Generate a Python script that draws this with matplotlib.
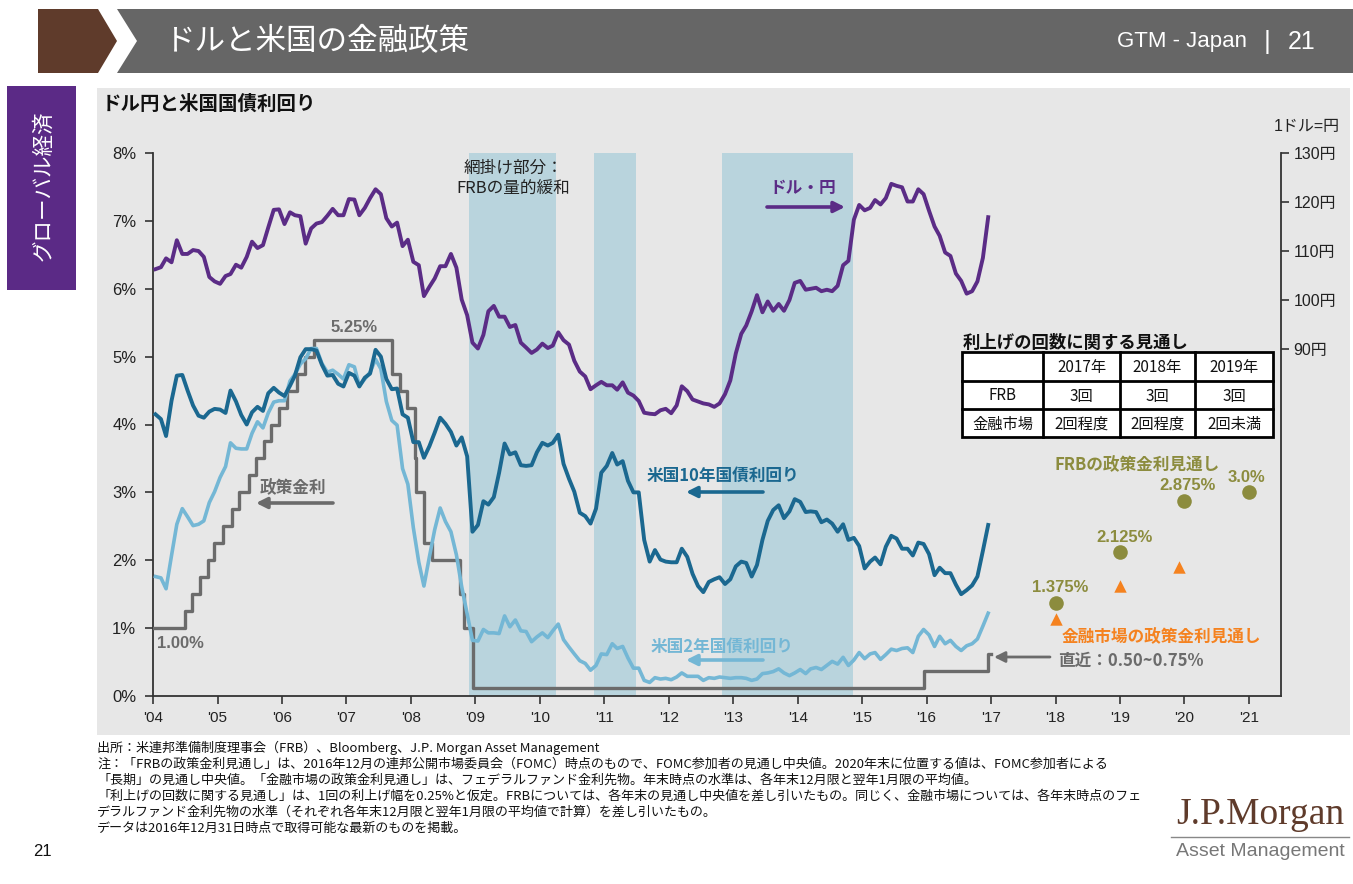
import matplotlib
matplotlib.use("Agg")
import matplotlib.pyplot as plt
from matplotlib.patches import Polygon, Rectangle
import pandas as pd

plt.rcParams['font.family'] = ['Liberation Sans', 'Noto Sans CJK JP']

# ---------------- data (monthly, Jan 2004 - Dec 2016) ----------------
first_month = "2004-01-01"

usdjpy = [
    106.3, 106.7, 108.5, 107.7, 112.2, 109.4, 109.4, 110.2, 110.0, 108.8, 104.7, 103.8,
    103.3, 104.9, 105.3, 107.2, 106.6, 108.8, 111.9, 110.6, 111.2, 114.8, 118.4, 118.5,
    115.5, 117.9, 117.3, 117.1, 111.5, 114.6, 115.6, 115.9, 117.2, 118.6, 117.3, 117.3,
    120.6, 120.5, 117.3, 118.8, 120.8, 122.6, 121.6, 116.7, 115.0, 115.8, 111.0, 112.3,
    107.8, 107.1, 100.8, 102.7, 104.4, 106.9, 106.9, 109.4, 106.6, 100.1, 96.9, 91.3,
    90.1, 92.9, 97.7, 98.8, 96.6, 96.6, 94.5, 94.9, 91.3, 90.3, 89.2, 89.9,
    91.1, 90.2, 90.7, 93.4, 91.8, 90.9, 87.6, 85.4, 84.4, 81.8, 82.6, 83.3,
    82.6, 82.6, 81.7, 83.2, 81.1, 80.5, 79.4, 77.0, 76.8, 76.7, 77.5, 77.8,
    76.9, 78.5, 82.4, 81.4, 79.7, 79.3, 78.9, 78.7, 78.2, 78.9, 80.8, 83.6,
    89.1, 93.1, 94.8, 97.7, 101.0, 97.5, 99.7, 97.8, 99.2, 97.8, 100.0, 103.5,
    103.9, 102.1, 102.3, 102.5, 101.8, 102.1, 101.8, 102.9, 107.1, 108.0, 116.4, 119.4,
    118.3, 118.8, 120.4, 119.5, 120.8, 123.7, 123.3, 123.0, 120.1, 120.1, 122.6, 121.6,
    118.2, 115.0, 113.1, 109.7, 109.0, 105.4, 103.9, 101.3, 101.8, 103.8, 108.6, 116.9,
]

ust10 = [
    4.15, 4.08, 3.83, 4.35, 4.72, 4.73, 4.50, 4.28, 4.13, 4.10, 4.19, 4.23,
    4.22, 4.17, 4.50, 4.34, 4.14, 4.00, 4.18, 4.26, 4.20, 4.46, 4.54, 4.47,
    4.42, 4.57, 4.72, 4.99, 5.11, 5.11, 5.09, 4.88, 4.72, 4.73, 4.60, 4.56,
    4.76, 4.72, 4.56, 4.69, 4.75, 5.10, 5.00, 4.67, 4.52, 4.53, 4.15, 4.10,
    3.74, 3.74, 3.51, 3.68, 3.88, 4.10, 4.01, 3.89, 3.69, 3.81, 3.53, 2.42,
    2.52, 2.87, 2.82, 2.93, 3.29, 3.72, 3.56, 3.59, 3.40, 3.39, 3.40, 3.59,
    3.73, 3.69, 3.73, 3.85, 3.42, 3.20, 3.01, 2.70, 2.65, 2.54, 2.76, 3.29,
    3.39, 3.58, 3.41, 3.46, 3.17, 3.00, 3.00, 2.30, 1.98, 2.15, 2.01, 1.98,
    1.97, 1.97, 2.17, 2.05, 1.80, 1.62, 1.53, 1.68, 1.72, 1.75, 1.65, 1.72,
    1.91, 1.98, 1.96, 1.76, 1.93, 2.30, 2.58, 2.74, 2.81, 2.62, 2.72, 2.90,
    2.86, 2.71, 2.72, 2.71, 2.56, 2.60, 2.54, 2.42, 2.53, 2.30, 2.33, 2.21,
    1.88, 1.98, 2.04, 1.94, 2.20, 2.36, 2.32, 2.17, 2.17, 2.07, 2.26, 2.24,
    2.09, 1.78, 1.89, 1.81, 1.81, 1.64, 1.50, 1.56, 1.63, 1.76, 2.14, 2.52,
]

ust2 = [
    1.76, 1.74, 1.58, 2.07, 2.53, 2.76, 2.64, 2.51, 2.53, 2.58, 2.85, 3.01,
    3.22, 3.38, 3.73, 3.65, 3.64, 3.64, 3.87, 4.04, 3.95, 4.17, 4.33, 4.35,
    4.35, 4.64, 4.74, 4.89, 4.97, 5.12, 5.12, 4.90, 4.77, 4.80, 4.74, 4.67,
    4.88, 4.85, 4.57, 4.67, 4.77, 4.96, 4.82, 4.34, 4.06, 3.99, 3.35, 3.12,
    2.48, 1.97, 1.62, 2.05, 2.45, 2.77, 2.57, 2.42, 2.08, 1.61, 1.21, 0.82,
    0.81, 0.98, 0.93, 0.93, 0.92, 1.18, 1.02, 1.12, 0.96, 0.95, 0.80, 0.87,
    0.93, 0.86, 0.96, 1.06, 0.83, 0.72, 0.62, 0.52, 0.48, 0.38, 0.45, 0.62,
    0.61, 0.77, 0.70, 0.73, 0.56, 0.41, 0.41, 0.23, 0.20, 0.27, 0.25, 0.26,
    0.24, 0.28, 0.34, 0.29, 0.29, 0.29, 0.23, 0.27, 0.26, 0.28, 0.27, 0.26,
    0.27, 0.27, 0.26, 0.23, 0.25, 0.33, 0.34, 0.36, 0.40, 0.34, 0.30, 0.34,
    0.39, 0.33, 0.40, 0.42, 0.39, 0.45, 0.51, 0.47, 0.57, 0.45, 0.53, 0.64,
    0.55, 0.62, 0.64, 0.54, 0.61, 0.69, 0.67, 0.70, 0.71, 0.64, 0.88, 0.98,
    0.90, 0.73, 0.88, 0.77, 0.82, 0.73, 0.67, 0.74, 0.77, 0.84, 1.03, 1.22,
]

fed_dates = ["2004-01-01", "2004-06-30", "2004-08-10", "2004-09-21", "2004-11-10",
             "2004-12-14", "2005-02-02", "2005-03-22", "2005-05-03", "2005-06-30",
             "2005-08-09", "2005-09-20", "2005-11-01", "2005-12-13", "2006-01-31",
             "2006-03-28", "2006-05-10", "2006-06-29", "2007-09-18", "2007-10-31",
             "2007-12-11", "2008-01-22", "2008-01-30", "2008-03-18", "2008-04-30",
             "2008-10-08", "2008-10-29", "2008-12-16", "2015-12-16", "2016-12-14",
             "2016-12-31"]
fed_rates = [1.00, 1.25, 1.50, 1.75, 2.00, 2.25, 2.50, 2.75, 3.00, 3.25, 3.50, 3.75,
             4.00, 4.25, 4.50, 4.75, 5.00, 5.25, 4.75, 4.50, 4.25, 3.50, 3.00, 2.25,
             2.00, 1.50, 1.00, 0.125, 0.375, 0.625, 0.625]

qe_start = ["2008-11-25", "2010-11-03", "2012-10-30"]
qe_end = ["2010-03-31", "2011-06-30", "2014-11-10"]

proj_dates = ["2018-01-01", "2019-01-01", "2020-01-01", "2021-01-01"]
frb_proj = [1.375, 2.125, 2.875, 3.0]
frb_labels = ["1.375%", "2.125%", "2.875%", "3.0%"]
mkt_dates = ["2018-01-01", "2019-01-01", "2019-12-01"]
mkt_proj = [1.13, 1.62, 1.90]

year_ticks = list(range(2004, 2022))
year_labels = ["'04", "'05", "'06", "'07", "'08", "'09", "'10", "'11", "'12",
               "'13", "'14", "'15", "'16", "'17", "'18", "'19", "'20", "'21"]
pct_ticks = [0, 1, 2, 3, 4, 5, 6, 7, 8]
yen_ticks = [90, 100, 110, 120, 130]

table_header = ["", "2017年", "2018年", "2019年"]
table_rows = [["FRB", "3回", "3回", "3回"],
              ["金融市場", "2回程度", "2回程度", "2回未満"]]

footnotes = [
    "出所：米連邦準備制度理事会（FRB）、Bloomberg、J.P. Morgan Asset Management",
    "注：「FRBの政策金利見通し」は、2016年12月の連邦公開市場委員会（FOMC）時点のもので、FOMC参加者の見通し中央値。2020年末に位置する値は、FOMC参加者による",
    "「長期」の見通し中央値。「金融市場の政策金利見通し」は、フェデラルファンド金利先物。年末時点の水準は、各年末12月限と翌年1月限の平均値。",
    "「利上げの回数に関する見通し」は、1回の利上げ幅を0.25%と仮定。FRBについては、各年末の見通し中央値を差し引いたもの。同じく、金融市場については、各年末時点のフェ",
    "デラルファンド金利先物の水準（それぞれ各年末12月限と翌年1月限の平均値で計算）を差し引いたもの。",
    "データは2016年12月31日時点で取得可能な最新のものを掲載。",
]

# ---------------- colours ----------------
C_JPY = "#5b2c86"
C_10Y = "#1b6890"
C_2Y = "#74b7d5"
C_FED = "#6b6b6b"
C_FRB = "#8c8c3e"
C_MKT = "#f5821f"
C_QE = "#b9d4dd"
C_BG = "#e7e7e7"

W, H = 1353, 884
fig = plt.figure(figsize=(W / 100, H / 100), dpi=100)

# background layer (pixel coordinates)
bg = fig.add_axes([0, 0, 1, 1], zorder=0)
bg.set_xlim(0, W)
bg.set_ylim(H, 0)
bg.axis("off")
bg.add_patch(Polygon([(38, 9), (98, 9), (117, 41), (98, 73), (38, 73)],
                     closed=True, color="#5f3b2b", lw=0))
bg.add_patch(Polygon([(117, 9), (W, 9), (W, 73), (117, 73), (137, 41)],
                     closed=True, color="#666666", lw=0))
bg.add_patch(Rectangle((7, 86), 69, 204, color="#5b2a86", lw=0))
bg.add_patch(Rectangle((97, 88), 1253, 647, color=C_BG, lw=0))

# ---------------- main axes ----------------
ax = fig.add_axes([153 / W, 1 - 696 / H, (1281 - 153) / W, (696 - 153) / H], zorder=2)
ax.patch.set_visible(False)
ax2 = ax.twinx()
ax2.set_zorder(3)
ax2.patch.set_visible(False)

dates = pd.date_range(first_month, periods=len(usdjpy), freq="MS") + pd.Timedelta(days=14)

ax.step(pd.to_datetime(fed_dates), fed_rates, where="post", color=C_FED, lw=2.4, zorder=3)
ax.plot(dates, ust2, color=C_2Y, lw=2.6, zorder=4)
ax.plot(dates, ust10, color=C_10Y, lw=2.8, zorder=5)
ax2.plot(dates, usdjpy, color=C_JPY, lw=2.8)

for s, e in zip(qe_start, qe_end):
    ax.axvspan(pd.Timestamp(s), pd.Timestamp(e), color=C_QE, lw=0, zorder=0)

ax.scatter(pd.to_datetime(proj_dates), frb_proj, s=110, color=C_FRB, zorder=6, lw=0)
ax.scatter(pd.to_datetime(mkt_dates), mkt_proj, s=80, marker="^", color=C_MKT, zorder=6, lw=0)

ax.set_xlim(pd.Timestamp("2004-01-01"), pd.Timestamp("2021-07-01"))
ax.set_ylim(0, 8)
ax2.set_ylim(19.2, 130)

ax.set_xticks(pd.to_datetime([f"{y}-01-01" for y in year_ticks]))
ax.set_xticklabels(year_labels)
ax.set_yticks(pct_ticks)
ax.set_yticklabels([f"{v}%" for v in pct_ticks])
ax2.set_yticks(yen_ticks)
ax2.set_yticklabels([f"{v}円" for v in yen_ticks])

for a in (ax, ax2):
    a.spines["top"].set_visible(False)
ax.spines["right"].set_visible(False)
ax2.spines["left"].set_visible(False)
ax2.spines["bottom"].set_visible(False)
for a, sides in ((ax, ("left", "bottom")), (ax2, ("right",))):
    for sd in sides:
        a.spines[sd].set_color("#333333")
        a.spines[sd].set_linewidth(1.3)

ax.tick_params(axis="y", direction="out", length=6, width=1.2, color="#333333",
               labelsize=12, labelcolor="#222222", pad=6)
ax.tick_params(axis="x", direction="out", length=6, width=1.2, color="#333333",
               labelsize=11, labelcolor="#222222", pad=5)
ax2.tick_params(axis="y", direction="out", length=6, width=1.2, color="#333333",
                labelsize=11.5, labelcolor="#222222", pad=3)

# ---------------- overlay text layer ----------------
top = fig.add_axes([0, 0, 1, 1], zorder=10)
top.set_xlim(0, W)
top.set_ylim(H, 0)
top.axis("off")
top.patch.set_visible(False)

JP = ["Noto Sans CJK JP"]

top.text(165, 42, "ドルと米国の金融政策", color="white", fontsize=22, family=JP,
         ha="left", va="center")
top.text(1247, 42, "GTM - Japan", color="white", fontsize=16, ha="right", va="center")
top.text(1267, 42, "|", color="white", fontsize=19, ha="center", va="center")
top.text(1302, 42, "21", color="white", fontsize=18, ha="center", va="center")
top.text(44, 186, "グローバル経済", color="white", fontsize=15.5, family=JP,
         rotation=90, ha="center", va="center")

top.text(102, 104, "ドル円と米国国債利回り", fontsize=14, family=JP, weight="bold",
         ha="left", va="center", color="#111111")
top.text(1340, 127, "1ドル=円", fontsize=11.5, ha="right", va="center", color="#222222")

top.text(513, 168, "網掛け部分：", fontsize=12, family=JP, ha="center", va="center", color="#222222")
top.text(513, 188, "FRBの量的緩和", fontsize=12, family=JP, ha="center", va="center", color="#222222")

arrow = dict(arrowstyle="-|>", lw=2.6, mutation_scale=16, shrinkA=0, shrinkB=0)
top.text(803, 188, "ドル・円", fontsize=12, family=JP, weight="bold", color=C_JPY,
         ha="center", va="center")
top.annotate("", xy=(845, 207), xytext=(767, 207), arrowprops=dict(arrow, color=C_JPY))

top.text(723, 476, "米国10年国債利回り", fontsize=12, family=JP, weight="bold", color=C_10Y,
         ha="center", va="center")
top.annotate("", xy=(686, 492), xytext=(763, 492), arrowprops=dict(arrow, color=C_10Y))

top.text(722, 647, "米国2年国債利回り", fontsize=12, family=JP, weight="bold", color=C_2Y,
         ha="center", va="center")
top.annotate("", xy=(686, 660), xytext=(763, 660), arrowprops=dict(arrow, color=C_2Y))

top.text(293, 488, "政策金利", fontsize=12, family=JP, weight="bold", color=C_FED,
         ha="center", va="center")
top.annotate("", xy=(256, 503), xytext=(333, 503), arrowprops=dict(arrow, color=C_FED))

top.text(354, 328, "5.25%", fontsize=12, weight="bold", color=C_FED, ha="center", va="center")
top.text(180, 643, "1.00%", fontsize=12, weight="bold", color=C_FED, ha="center", va="center")

top.text(1137, 465, "FRBの政策金利見通し", fontsize=12, family=JP, weight="bold", color=C_FRB,
         ha="center", va="center")
frb_label_pos = [(1060, 587), (1125, 537), (1188, 485), (1246, 478)]
for (lx, ly), lab in zip(frb_label_pos, frb_labels):
    top.text(lx, ly, lab, fontsize=12, weight="bold", color=C_FRB, ha="center", va="center")

top.text(1161, 637, "金融市場の政策金利見通し", fontsize=12, family=JP, weight="bold", color=C_MKT,
         ha="center", va="center")
top.text(1058, 661, "直近：0.50~0.75%", fontsize=12, family=JP, weight="bold", color=C_FED,
         ha="left", va="center")
top.annotate("", xy=(994, 657), xytext=(1050, 657), arrowprops=dict(arrow, color=C_FED, lw=2))

# table
top.text(963, 343, "利上げの回数に関する見通し", fontsize=12.5, family=JP, weight="bold",
         ha="left", va="center", color="#111111")
xe = [962, 1043, 1120, 1195, 1273]
ye = [352, 381, 409, 437]
top.add_patch(Rectangle((xe[0], ye[0]), xe[-1] - xe[0], ye[-1] - ye[0],
                        facecolor="white", edgecolor="black", lw=2))
for xv in xe[1:-1]:
    top.plot([xv, xv], [ye[0], ye[-1]], color="black", lw=2)
for yv in ye[1:-1]:
    top.plot([xe[0], xe[-1]], [yv, yv], color="black", lw=2)
for r, row in enumerate([table_header] + table_rows):
    for c, cell in enumerate(row):
        top.text((xe[c] + xe[c + 1]) / 2, (ye[r] + ye[r + 1]) / 2 + 1, cell,
                 fontsize=11, family=JP, ha="center", va="center", color="#111111")

# footnotes
for i, line in enumerate(footnotes):
    top.text(97, 748 + i * 16, line, fontsize=9.4, family=JP, ha="left", va="center",
             color="#111111")

top.text(42, 852, "21", fontsize=12, ha="center", va="center", color="#111111")

# logo
top.text(1260, 815, "J.P.Morgan", fontsize=27, family=["Liberation Serif"], color="#5f3b2b",
         ha="center", va="center")
top.plot([1171, 1349], [837, 837], color="#888888", lw=1)
top.text(1260, 852, "Asset Management", fontsize=14, color="#777777", ha="center", va="center")

fig.savefig("out.png", dpi=100)
